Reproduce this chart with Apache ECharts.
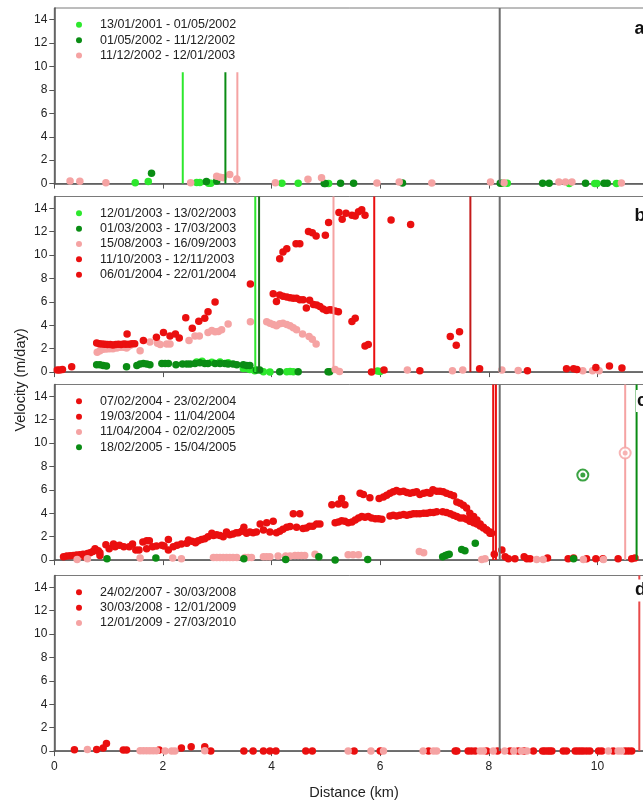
<!DOCTYPE html>
<html>
<head>
<meta charset="utf-8">
<script src="https://cdn.jsdelivr.net/npm/echarts@6/dist/echarts.min.js"></script>
<style>html,body{margin:0;padding:0;background:#fff;}#chart{width:643px;height:801px;}</style>
</head>
<body>
<div id="chart"></div>
<script>
// ---------- tick labels ----------
var xTicks = [0, 2, 4, 6, 8, 10];
var yTicks = [0, 2, 4, 6, 8, 10, 12, 14];

// ---------- panel a ----------
var a_names = ['13/01/2001 - 01/05/2002', '01/05/2002 - 11/12/2002', '11/12/2002 - 12/01/2003'];
var a_s1 = [[1.49,0.08],[1.73,0.17],[2.62,0.1],[2.68,0.1],[2.84,0.03],[2.88,0.03],[4.19,0.03],[4.49,0.03],[5.05,0],[8.25,0.03],[8.34,0.03],[9.48,0],[9.95,0],[9.99,0],[10.35,0]];
var a_s2 = [[1.79,0.88],[2.80,0.17],[2.99,0.23],[4.97,0],[4.99,0],[5.27,0.03],[5.51,0.03],[6.41,0.05],[8.21,0.03],[8.99,0.03],[9.11,0.03],[9.78,0.03],[10.12,0.03],[10.18,0.03]];
var a_s3 = [[0.29,0.23],[0.47,0.2],[0.95,0.08],[2.51,0.08],[2.99,0.63],[3.05,0.54],[3.11,0.5],[3.23,0.77],[3.36,0.4],[4.07,0.08],[4.67,0.37],[4.92,0.5],[5.94,0.06],[6.35,0.14],[6.95,0.06],[8.03,0.14],[8.28,0.08],[9.29,0.14],[9.41,0.14],[9.53,0.14],[10.44,0.06]];
var a_vlines = [2.365, 3.15, 3.37, 8.2];
var a_vlineTops = [9.58, 9.58, 9.58, 15];   // visible top of each line (legend hides the rest)

// ---------- panel b ----------
var b_names = ['12/01/2003 - 13/02/2003', '01/03/2003 - 17/03/2003', '15/08/2003 - 16/09/2003', '11/10/2003 - 12/11/2003', '06/01/2004 - 22/01/2004'];
var b_s1 = [[2.62,0.86],[2.72,0.92],[2.9,0.84],[3.05,0.86],[3.2,0.8],[3.48,0.31],[3.55,0.31],[3.6,0.23],[3.69,0.12],[3.85,0.03],[3.97,0],[4.28,0.03],[4.34,0.06],[4.4,0.03],[5.95,0.1],[6.0,0.05]];
var b_s2 = [[0.78,0.63],[0.84,0.63],[0.9,0.57],[0.96,0.52],[1.33,0.46],[1.52,0.57],[1.58,0.69],[1.64,0.74],[1.7,0.69],[1.76,0.63],[1.98,0.74],[2.04,0.74],[2.1,0.74],[2.24,0.63],[2.36,0.69],[2.44,0.69],[2.5,0.69],[2.59,0.74],[2.68,0.8],[2.77,0.74],[2.83,0.74],[2.96,0.74],[3.05,0.74],[3.14,0.74],[3.2,0.69],[3.29,0.69],[3.36,0.63],[3.48,0.63],[3.54,0.57],[3.6,0.57],[3.72,0.17],[3.78,0.17],[4.15,0.03],[4.49,0.03],[5.04,0.03],[5.07,0.03]];
var b_s3 = [[0.79,1.69],[0.84,1.83],[0.90,1.95],[0.96,1.98],[1.02,2.0],[1.08,2.0],[1.15,2.06],[1.21,2.12],[1.27,2.12],[1.33,2.06],[1.36,2.18],[1.40,2.29],[1.58,1.83],[1.76,2.58],[1.90,2.46],[1.95,2.35],[2.07,2.41],[2.13,2.41],[2.48,2.69],[2.59,3.09],[2.67,3.09],[2.83,3.38],[2.90,3.55],[2.96,3.44],[3.02,3.47],[3.08,3.61],[3.20,4.10],[3.61,4.30],[3.91,4.30],[3.97,4.18],[4.03,4.07],[4.09,3.95],[4.15,4.12],[4.21,4.18],[4.28,4.07],[4.34,3.95],[4.40,3.78],[4.46,3.61],[4.57,3.26],[4.69,3.04],[4.75,2.81],[4.82,2.41],[5.17,0.23],[5.25,0.06],[6.50,0.17],[7.33,0.11],[7.52,0.17],[8.24,0.17],[8.54,0.14],[9.73,0.11],[9.91,0.11],[10.03,0.11]];
var b_s4 = [[0.055,0.17],[0.10,0.17],[0.15,0.23],[0.32,0.46],[0.78,2.49],[0.83,2.43],[0.88,2.40],[0.93,2.37],[0.98,2.35],[1.03,2.35],[1.08,2.32],[1.13,2.35],[1.18,2.37],[1.23,2.35],[1.28,2.40],[1.34,3.26],[1.32,2.37],[1.38,2.37],[1.43,2.43],[1.48,2.43],[1.64,2.69],[1.88,2.98],[2.01,3.38],[2.13,3.09],[2.23,3.26],[2.30,2.92],[2.42,4.64],[2.54,3.75],[2.66,4.35],[2.77,4.61],[2.83,5.15],[2.96,5.98],[3.61,7.53],[4.03,6.70],[4.09,6.04],[4.15,6.59],[4.21,6.47],[4.28,6.41],[4.34,6.36],[4.40,6.30],[4.46,6.30],[4.52,6.19],[4.58,6.19],[4.64,5.47],[4.70,6.13],[4.77,5.78],[4.83,5.73],[4.89,5.61],[4.95,5.38],[5.01,5.27],[5.07,5.33],[5.11,5.30],[5.17,5.21],[5.23,5.15],[5.48,4.32],[5.54,4.61],[5.72,2.23],[5.78,2.35]];
var b_s5 = [[4.15,9.68],[4.21,10.25],[4.28,10.54],[4.45,10.97],[4.52,10.97],[4.68,12.0],[4.75,11.91],[4.82,11.63],[4.99,11.68],[5.05,12.77],[5.24,13.63],[5.30,13.06],[5.37,13.57],[5.48,13.4],[5.54,13.34],[5.60,13.69],[5.66,13.86],[5.72,13.4],[6.2,13.0],[6.56,12.6],[5.84,0],[6.07,0.17],[6.73,0.11],[7.29,3.04],[7.40,2.29],[7.46,3.44],[7.83,0.29],[8.71,0.11],[9.43,0.29],[9.56,0.29],[9.62,0.23],[9.97,0.4],[10.22,0.52],[10.45,0.34]];
var b_vlines = [3.70, 3.77, 5.14, 5.89, 7.66, 8.2];

// ---------- panel c ----------
var c_names = ['07/02/2004 - 23/02/2004', '19/03/2004 - 11/04/2004', '11/04/2004 - 02/02/2005', '18/02/2005 - 15/04/2005'];
var c_s1 = [[0.17,0.29],[0.23,0.34],[0.29,0.37],[0.35,0.40],[0.41,0.43],[0.47,0.46],[0.53,0.49],[0.56,0.29],[0.61,0.57],[0.66,0.63],[0.71,0.74],[0.75,0.97],[0.81,0.80],[0.84,0.63],[0.95,1.31],[1.01,0.97],[1.09,1.37],[1.12,1.14],[1.20,1.26],[1.38,1.14],[1.44,1.37],[1.50,0.86],[1.56,0.86],[1.63,1.54],[1.70,1.66],[1.75,1.66],[1.81,1.14],[1.88,1.20],[1.98,1.26],[2.10,1.77],[2.10,0.86],[2.19,1.14],[2.26,1.26],[2.34,1.37],[2.44,1.43],[2.53,1.60],[2.59,1.54],[2.65,1.66],[2.71,1.77],[2.77,1.83],[2.83,2.0],[2.93,2.11],[2.99,2.17],[3.05,2.11],[3.11,2.0],[3.23,2.17],[3.29,2.23],[3.39,2.34],[3.45,2.46],[3.54,2.29],[3.60,2.40],[3.66,2.34],[3.72,2.40],[3.85,2.57],[3.97,2.40],[4.09,2.34],[4.15,2.46],[4.21,2.63],[4.28,2.80],[4.34,2.86],[4.46,2.80],[4.58,2.69],[4.64,2.74],[4.70,2.89],[4.76,2.89],[4.83,3.09],[4.89,3.09],[5.17,3.20],[5.23,3.26],[5.29,3.37],[5.35,3.32],[5.41,3.20],[5.48,3.26],[5.54,3.43],[5.60,3.60],[5.66,3.72],[5.72,3.66],[5.78,3.72],[5.84,3.60],[5.91,3.54],[5.97,3.54],[6.03,3.49],[6.18,3.77],[6.24,3.83],[6.30,3.77],[6.36,3.83],[6.43,3.89],[6.49,3.83],[6.55,3.89],[6.61,3.95],[6.67,3.95],[6.73,3.95],[6.80,4.00],[6.86,4.00],[6.92,4.06],[6.98,4.06],[7.04,4.12],[7.15,4.12],[7.22,4.06],[7.29,3.95],[7.35,3.83],[7.41,3.72],[7.47,3.60],[7.53,3.60],[7.59,3.49],[7.65,3.32],[7.72,3.20],[7.78,3.09],[7.84,2.92],[7.90,2.74],[7.96,2.57],[8.02,2.40],[8.05,2.29],[8.10,0.51],[8.30,0.29],[8.36,0.11],[8.48,0.11],[8.65,0.29],[8.70,0.11],[8.76,0.11],[9.08,0.17]];
var c_s2 = [[0.84,0.40],[1.28,1.14],[1.70,0.97],[2.02,1.20],[2.47,1.72],[2.60,1.49],[2.90,2.29],[3.17,2.40],[3.35,2.34],[3.49,2.80],[3.79,3.09],[3.91,3.20],[4.03,3.32],[4.40,3.95],[4.52,3.95],[5.11,4.72],[5.23,4.80],[5.29,5.26],[5.35,4.72],[5.63,5.72],[5.69,5.61],[5.81,5.32],[5.98,5.26],[6.06,5.38],[6.12,5.55],[6.18,5.72],[6.24,5.83],[6.30,5.95],[6.36,5.83],[6.43,5.89],[6.49,5.78],[6.55,5.72],[6.61,5.78],[6.67,5.83],[6.73,5.61],[6.80,5.72],[6.86,5.78],[6.92,5.72],[6.97,6.00],[7.04,5.89],[7.10,5.89],[7.16,5.83],[7.22,5.72],[7.29,5.61],[7.35,5.49],[7.41,4.97],[7.47,4.86],[7.53,4.69],[7.59,4.46],[7.65,4.00],[7.72,3.72],[7.78,3.43],[7.84,3.09],[7.90,2.80],[7.96,2.57],[8.02,2.29],[8.24,0.86],[9.46,0.11],[9.56,0.17],[9.80,0.11],[9.97,0.11],[10.10,0.11],[10.38,0.11],[10.63,0.11],[10.69,0.17]];
var c_s3 = [[0.42,0.06],[0.61,0.11],[1.58,0.17],[2.18,0.17],[2.34,0.11],[2.93,0.23],[2.99,0.23],[3.05,0.23],[3.11,0.23],[3.17,0.23],[3.23,0.23],[3.29,0.23],[3.36,0.23],[3.51,0.23],[3.57,0.23],[3.63,0.23],[3.85,0.29],[3.91,0.29],[3.97,0.29],[4.12,0.34],[4.26,0.34],[4.34,0.34],[4.43,0.40],[4.49,0.40],[4.55,0.40],[4.61,0.40],[4.80,0.51],[5.41,0.46],[5.50,0.46],[5.60,0.46],[6.72,0.74],[6.80,0.63],[7.87,0.06],[7.93,0.11],[8.88,0.06],[9.00,0.06],[9.74,0.06],[10.11,0.06]];
var c_s4 = [[0.97,0.11],[1.87,0.17],[3.49,0.11],[4.26,0.06],[4.87,0.29],[5.17,0],[5.77,0.06],[7.15,0.29],[7.20,0.40],[7.24,0.46],[7.27,0.51],[7.50,0.91],[7.56,0.80],[7.75,1.43],[9.56,0.11]];
var c_ringGreen = [[9.73,7.26]];
var c_ringPink = [[10.51,9.15]];
var c_vlines = [8.08, 8.13, 8.2, 10.51, 10.72];

// ---------- panel d ----------
var d_names = ['24/02/2007 - 30/03/2008', '30/03/2008 - 12/01/2009', '12/01/2009 - 27/03/2010'];
var d_s1 = [[0.37,0.11],[0.78,0.14],[0.90,0.26],[0.96,0.65],[1.27,0.09],[1.33,0.09],[1.93,0.09],[2.34,0.26],[2.52,0.37],[2.77,0.37],[2.88,0],[3.49,0],[3.66,0],[3.85,0],[3.97,0],[4.08,0],[4.63,0],[4.75,0],[5.52,0],[6.0,0],[6.89,0],[7.38,0],[7.41,0],[7.62,0],[7.68,0],[7.75,0]];
var d_s2 = [[7.96,0],[8.16,0],[8.39,0],[8.54,0],[8.65,0],[8.82,0],[8.99,0],[9.03,0],[9.08,0],[9.12,0],[9.16,0],[9.37,0],[9.43,0],[9.59,0],[9.64,0],[9.69,0],[9.74,0],[9.80,0],[9.86,0],[10.02,0],[10.08,0],[10.29,0],[10.51,0],[10.57,0],[10.63,0]];
var d_s3 = [[0.61,0.14],[1.58,0.03],[1.64,0.03],[1.70,0.03],[1.76,0.03],[1.82,0.03],[1.88,0.03],[2.04,0],[2.16,0],[2.22,0],[2.77,0.03],[5.41,0],[5.83,0],[6.06,0],[6.79,0],[6.98,0],[7.04,0],[7.84,0],[7.90,0],[8.08,0],[8.29,0],[8.46,0],[8.60,0],[8.70,0],[10.20,0],[10.38,0],[10.44,0]];
var d_vlines = [8.2, 10.77];

// ---------- styling (not data) ----------
var LG = '#2de82d', DG = '#0a8c14', PK = '#f5a3a3', RD = '#ea0f0f', DRD = '#c41a1a', GRY = '#6e6e6e';
var FONT = "'Liberation Sans', Arial, sans-serif";
var panelTops = [8, 196.5, 384.5, 575.5];
var panelH = 175.6;

var panels = [
  {names: a_names, data: [a_s1, a_s2, a_s3], colors: [LG, DG, PK], vl: a_vlines, vlTop: a_vlineTops, vlc: [LG, DG, PK, GRY], label: 'a'},
  {names: b_names, data: [b_s1, b_s2, b_s3, b_s4, b_s5], colors: [LG, DG, PK, RD, RD], vl: b_vlines, vlc: [LG, '#1f6b1f', PK, RD, DRD, GRY], label: 'b'},
  {names: c_names, data: [c_s1, c_s2, c_s3, c_s4], colors: [RD, RD, PK, DG], vl: c_vlines, vlc: [RD, RD, GRY, PK, DG], label: 'c'},
  {names: d_names, data: [d_s1, d_s2, d_s3], colors: [RD, RD, PK], vl: d_vlines, vlc: [GRY, '#e84a4a'], label: 'd'}
];

var grid = [], xAxis = [], yAxis = [], series = [], legend = [], graphic = [];
panels.forEach(function (p, i) {
  grid.push({left: 54.3, width: 597.5, top: panelTops[i], height: panelH, show: true,
    outerBoundsMode: 'none', containLabel: false,
    borderColor: '#7a7a7a', borderWidth: 1, backgroundColor: 'rgba(0,0,0,0)'});
  xAxis.push({
    type: 'value', gridIndex: i, min: 0, max: 11,
    axisLine: {show: true, onZero: false, lineStyle: {color: '#555', width: 1.5}},
    axisTick: {show: true, length: 5, customValues: xTicks, lineStyle: {color: '#555', width: 1}},
    axisLabel: {show: i === 3, customValues: xTicks, fontSize: 12, color: '#222', fontFamily: FONT, margin: 10},
    splitLine: {show: false}
  });
  yAxis.push({
    type: 'value', gridIndex: i, min: 0, max: 15,
    axisLine: {show: true, onZero: false, lineStyle: {color: '#555', width: 1.5}},
    axisTick: {show: true, length: 5, customValues: yTicks, lineStyle: {color: '#555', width: 1}},
    axisLabel: {show: true, customValues: yTicks, fontSize: 12, color: '#222', fontFamily: FONT, margin: 7},
    splitLine: {show: false}
  });
  p.data.forEach(function (d, k) {
    series.push({
      type: 'scatter', name: p.names[k], xAxisIndex: i, yAxisIndex: i, data: d,
      symbol: 'circle', symbolSize: 7.5, clip: false, z: 2, silent: true,
      itemStyle: {color: p.colors[k], opacity: 1}
    });
  });
  p.vl.forEach(function (v, k) {
    var top = p.vlTop ? p.vlTop[k] : 15;
    series.push({
      type: 'line', xAxisIndex: i, yAxisIndex: i, data: [[v, 0], [v, top]],
      symbol: 'none', silent: true, z: 3,
      lineStyle: {color: p.vlc[k], width: 2, opacity: 1}
    });
  });
  legend.push({
    orient: 'vertical', left: 70, top: panelTops[i] + 1.8,
    padding: [8, 6, 9.7, 6], itemGap: 1.35, itemWidth: 6, itemHeight: 6,
    icon: 'circle', backgroundColor: '#ffffff', z: 10,
    textStyle: {fontSize: 12.5, lineHeight: 14, color: '#222', fontFamily: FONT, padding: [0, 0, 0, 13]},
    data: p.names.map(function (n) { return {name: n, icon: 'circle'}; }),
    selectedMode: false
  });
});

// ring markers in panel c
series.push({type: 'scatter', xAxisIndex: 2, yAxisIndex: 2, data: c_ringGreen, symbolSize: 11, clip: false, z: 4, silent: true,
  itemStyle: {color: '#fff', borderColor: DG, borderWidth: 2}});
series.push({type: 'scatter', xAxisIndex: 2, yAxisIndex: 2, data: c_ringGreen, symbolSize: 5, clip: false, z: 5, silent: true,
  itemStyle: {color: DG}});
series.push({type: 'scatter', xAxisIndex: 2, yAxisIndex: 2, data: c_ringPink, symbolSize: 11, clip: false, z: 4, silent: true,
  itemStyle: {color: '#fff', borderColor: PK, borderWidth: 2}});
series.push({type: 'scatter', xAxisIndex: 2, yAxisIndex: 2, data: c_ringPink, symbolSize: 5, clip: false, z: 5, silent: true,
  itemStyle: {color: PK}});

var labelPos = [[633.5, 29], [633.5, 216], [636, 401], [634, 590.5]];
panels.forEach(function (p, i) {
  graphic.push({type: 'text', x: labelPos[i][0], y: labelPos[i][1], z: 20,
    style: {text: p.label, fontSize: 18, fontWeight: 'bold', fill: '#111', fontFamily: FONT,
      align: 'left', verticalAlign: 'middle', backgroundColor: '#fff', padding: [2, 4, 2, 1]}});
});
graphic.push({type: 'text', x: 21, y: 380, rotation: Math.PI / 2, z: 20,
  style: {text: 'Velocity (m/day)', fontSize: 14.5, fill: '#222', fontFamily: FONT, align: 'center', verticalAlign: 'middle'}});
graphic.push({type: 'text', x: 354, y: 793, z: 20,
  style: {text: 'Distance (km)', fontSize: 14.5, fill: '#222', fontFamily: FONT, align: 'center', verticalAlign: 'middle'}});

var chart = echarts.init(document.getElementById('chart'), null, {renderer: 'canvas'});
chart.setOption({
  animation: false,
  backgroundColor: '#ffffff',
  grid: grid, xAxis: xAxis, yAxis: yAxis, series: series, legend: legend, graphic: graphic
});
</script>
</body>
</html>
